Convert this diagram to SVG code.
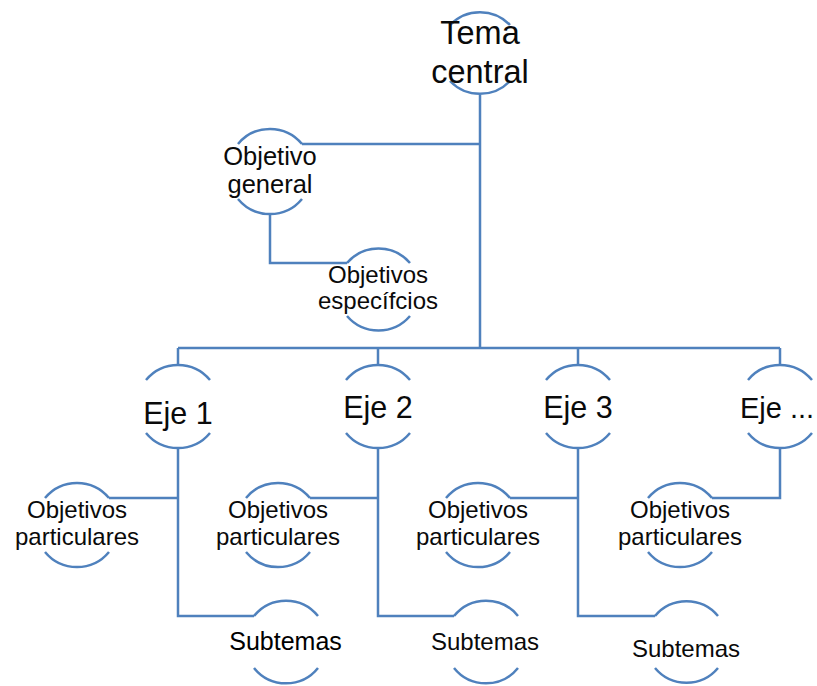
<svg xmlns="http://www.w3.org/2000/svg" width="817" height="686" viewBox="0 0 817 686">
<style>
.arc{fill:none;stroke:#4F81BD;stroke-width:2.5}
.ln{fill:none;stroke:#4F81BD;stroke-width:2.5}
text{font-family:"Liberation Sans",Arial,sans-serif;fill:#0a0a0a;text-anchor:middle}
.t1{font-size:32.5px}
.t2{font-size:30.5px}
.t3{font-size:25.5px}
.t4{font-size:24px}
</style>
<rect width="817" height="686" fill="#fff"/>
<g id="connectors">
<path class="ln" d="M480 95V348M480 144H302M270 213V263H347M178 348H780M178 348V365M378 348V365M578 348V365M780 348V365"/>
<path class="ln" d="M178 448V616H254M178 498H109"/>
<path class="ln" d="M378 448V616H454M378 498H310"/>
<path class="ln" d="M578 448V616H655M578 498H510"/>
<path class="ln" d="M780 448V498H712"/>
</g>
<g id="tema-central">
<path class="arc" d="M450 25A41.5 41.5 0 0 1 510 25M450 81A41.5 41.5 0 0 0 510 81"/>
<text class="t1" x="480" y="44">Tema</text>
<text class="t1" x="480" y="83">central</text>
</g>
<g id="objetivo-general">
<path class="arc" d="M238 144A41.5 41.5 0 0 1 302 144M238 199A41.5 41.5 0 0 0 302 199"/>
<text class="t3" x="270" y="165">Objetivo</text>
<text class="t3" x="270" y="193">general</text>
</g>
<g id="objetivos-especificos">
<path class="arc" d="M347 263A41.5 41.5 0 0 1 410 263M347 316A41.5 41.5 0 0 0 410 316"/>
<text class="t4" x="378" y="283">Objetivos</text>
<text class="t4" x="378" y="309">específcios</text>
</g>
<g id="eje-1">
<path class="arc" d="M146 380A41.5 41.5 0 0 1 210 380M146 433A41.5 41.5 0 0 0 210 433"/>
<text class="t2" x="178" y="424">Eje 1</text>
</g>
<g id="eje-2">
<path class="arc" d="M346 380A41.5 41.5 0 0 1 410 380M346 433A41.5 41.5 0 0 0 410 433"/>
<text class="t2" x="378" y="418">Eje 2</text>
</g>
<g id="eje-3">
<path class="arc" d="M546 380A41.5 41.5 0 0 1 610 380M546 433A41.5 41.5 0 0 0 610 433"/>
<text class="t2" x="578" y="418">Eje 3</text>
</g>
<g id="eje-n">
<path class="arc" d="M748 380A41.5 41.5 0 0 1 812 380M748 433A41.5 41.5 0 0 0 812 433"/>
<text x="777" y="418" style="font-size:29px">Eje ...</text>
</g>
<g id="objetivos-particulares-1">
<path class="arc" d="M45 498A41.5 41.5 0 0 1 109 498M45 552A41.5 41.5 0 0 0 109 552"/>
<text class="t4" x="77" y="518">Objetivos</text>
<text class="t4" x="77" y="545">particulares</text>
</g>
<g id="objetivos-particulares-2">
<path class="arc" d="M246 498A41.5 41.5 0 0 1 310 498M246 552A41.5 41.5 0 0 0 310 552"/>
<text class="t4" x="278" y="518">Objetivos</text>
<text class="t4" x="278" y="545">particulares</text>
</g>
<g id="objetivos-particulares-3">
<path class="arc" d="M446 498A41.5 41.5 0 0 1 510 498M446 552A41.5 41.5 0 0 0 510 552"/>
<text class="t4" x="478" y="518">Objetivos</text>
<text class="t4" x="478" y="545">particulares</text>
</g>
<g id="objetivos-particulares-4">
<path class="arc" d="M648 498A41.5 41.5 0 0 1 712 498M648 552A41.5 41.5 0 0 0 712 552"/>
<text class="t4" x="680" y="518">Objetivos</text>
<text class="t4" x="680" y="545">particulares</text>
</g>
<g id="subtemas-1">
<path class="arc" d="M254 616A41 41 0 0 1 318 616M254 668A41 41 0 0 0 318 668"/>
<text x="285.5" y="650" style="font-size:25px;fill:#000">Subtemas</text>
</g>
<g id="subtemas-2">
<path class="arc" d="M454 616A41 41 0 0 1 518 616M454 668A41 41 0 0 0 518 668"/>
<text class="t4" x="485" y="650">Subtemas</text>
</g>
<g id="subtemas-3">
<path class="arc" d="M655 616A41 41 0 0 1 718 616M655 668A41 41 0 0 0 718 668"/>
<text class="t4" x="686" y="657">Subtemas</text>
</g>
</svg>
